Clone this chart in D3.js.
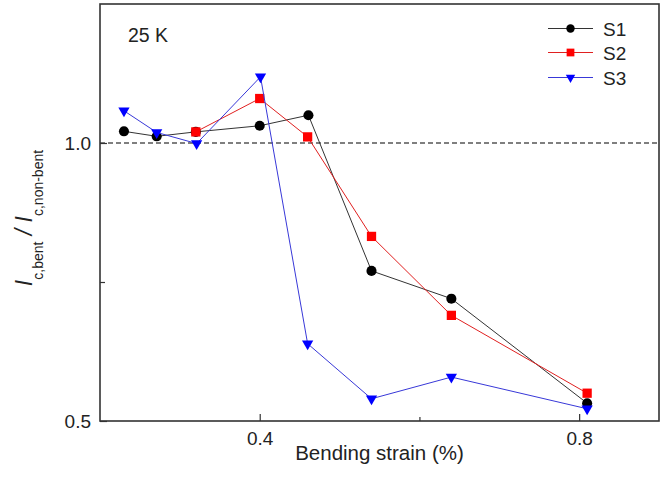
<!DOCTYPE html>
<html>
<head>
<meta charset="utf-8">
<script src="https://cdn.jsdelivr.net/npm/d3@7"></script>
<style>
  body { margin: 0; background: #fff; }
  svg { font-family: "Liberation Sans", Arial, sans-serif; }
</style>
</head>
<body>
<div class="chart"></div>
<script>
// strain values (%) and normalized Ic for each sample
const strainS1 = [0.23, 0.271, 0.32, 0.40, 0.461, 0.54, 0.64, 0.81]
const icS1 = [1.021, 1.012, 1.020, 1.031, 1.050, 0.770, 0.720, 0.532]
const strainS2 = [0.32, 0.40, 0.46, 0.54, 0.64, 0.81]
const icS2 = [1.020, 1.080, 1.011, 0.832, 0.690, 0.550]
const strainS3 = [0.23, 0.271, 0.321, 0.401, 0.46, 0.54, 0.64, 0.81]
const icS3 = [1.058, 1.019, 0.999, 1.119, 0.639, 0.540, 0.579, 0.522]

const seriesNames = ["S1", "S2", "S3"]
const xTicks = [0.4, 0.8]
const xMinor = [0.6]
const yTicks = [0.5, 1.0]
const yMinor = [0.75]

const series = [
  {name: "S1", color: "#000", line: "#333", sym: "circle", data: strainS1.map((x, i) => ({x: x, y: icS1[i]}))},
  {name: "S2", color: "#ff0000", line: "#e02020", sym: "square", data: strainS2.map((x, i) => ({x: x, y: icS2[i]}))},
  {name: "S3", color: "#0000ff", line: "#3838d8", sym: "triangle", data: strainS3.map((x, i) => ({x: x, y: icS3[i]}))}
]

const margin = ({top: 4, right: 3, bottom: 58, left: 100})
const width = 662 - margin.left - margin.right,
  height = 479 - margin.top - margin.bottom;

const svg = d3.select(".chart").append("svg")
  .attr("width", 662)
  .attr("height", 479)
  .append("g")
  .attr("transform", "translate(" + margin.left + "," + margin.top + ")");

const xScale = d3.scaleLinear().domain([0.2, 0.9]).range([0, width]);
const yScale = d3.scaleLinear().domain([0.5, 1.25]).range([height, 0]);

// reference line at 1.0
svg.append("line")
  .attr("x1", 0).attr("x2", width)
  .attr("y1", yScale(1)).attr("y2", yScale(1))
  .attr("stroke", "#000").attr("stroke-width", 1.1)
  .attr("stroke-dasharray", "5,3");

// axes (ticks inward)
const xAxis = d3.axisBottom(xScale).tickValues(xTicks).tickFormat(d3.format(".1f"))
  .tickSizeInner(-7).tickSizeOuter(0).tickPadding(11)
const gx = svg.append("g").attr("class", "axis x-axis")
  .attr("transform", `translate(0, ${height})`).call(xAxis)
svg.append("g").attr("transform", `translate(0, ${height})`)
  .call(d3.axisBottom(xScale).tickValues(xMinor).tickFormat("").tickSizeInner(-4).tickSizeOuter(0))
  .select(".domain").remove()

const yAxis = d3.axisLeft(yScale).tickValues(yTicks).tickFormat(d3.format(".1f"))
  .tickSizeInner(-7).tickSizeOuter(0).tickPadding(9)
const gy = svg.append("g").attr("class", "axis y-axis").call(yAxis)
svg.append("g")
  .call(d3.axisLeft(yScale).tickValues(yMinor).tickFormat("").tickSizeInner(-5).tickSizeOuter(0))
  .select(".domain").remove()

svg.selectAll(".axis text").attr("font-size", "19px").attr("fill", "#222")
  .attr("font-family", "Liberation Sans, Arial, sans-serif")
svg.selectAll(".tick line").attr("stroke", "#333").attr("stroke-width", 1.2)

// frame
svg.append("rect")
  .attr("x", 0).attr("y", 0).attr("width", width).attr("height", height)
  .attr("fill", "none").attr("stroke", "#333").attr("stroke-width", 1.6)
svg.selectAll(".domain").remove()

const line = d3.line().x(d => xScale(d.x)).y(d => yScale(d.y))
const symType = {circle: d3.symbolCircle, square: d3.symbolSquare, triangle: d3.symbolTriangle}
const symSize = {circle: 80, square: 86, triangle: 55}

series.forEach(s => {
  svg.append("path").datum(s.data)
    .attr("d", line).attr("fill", "none")
    .attr("stroke", s.line).attr("stroke-width", 1)
  svg.selectAll(".pt-" + s.name).data(s.data).enter().append("path")
    .attr("d", d3.symbol().type(symType[s.sym]).size(symSize[s.sym]))
    .attr("transform", d => `translate(${xScale(d.x)},${yScale(d.y)})` + (s.sym == "triangle" ? " rotate(180)" : ""))
    .attr("fill", s.color)
})

// legend
const legend = svg.append("g").attr("transform", "translate(" + (548 - margin.left) + ",0)")
series.forEach((s, i) => {
  const ly = [28.5, 52.5, 77.5][i] - margin.top
  legend.append("line").attr("x1", 0).attr("x2", 45).attr("y1", ly).attr("y2", ly)
    .attr("stroke", s.line).attr("stroke-width", 1)
  legend.append("path")
    .attr("d", d3.symbol().type(symType[s.sym]).size(symSize[s.sym] * 0.7))
    .attr("transform", `translate(22.5,${ly})` + (s.sym == "triangle" ? " rotate(180)" : ""))
    .attr("fill", s.color)
  legend.append("text").attr("x", 55).attr("y", ly + 7)
    .text(seriesNames[i]).attr("font-size", "19px").attr("fill", "#222")
})

// temperature label
svg.append("text").attr("x", 128 - margin.left).attr("y", 42 - margin.top)
  .text("25 K").attr("font-size", "19.5px").attr("fill", "#222")

// x title
svg.append("text").attr("x", width / 2).attr("y", 460 - margin.top)
  .attr("text-anchor", "middle").attr("font-size", "20.5px").attr("fill", "#222")
  .text("Bending strain (%)")

// y title
const yt = svg.append("text")
  .attr("transform", `translate(${31.5 - margin.left},${218 - margin.top}) rotate(-90)`)
  .attr("text-anchor", "middle").attr("fill", "#222").attr("font-size", "23px")
yt.append("tspan").attr("font-style", "italic").text("I")
yt.append("tspan").attr("font-size", "14px").attr("dy", 11).text("c,bent")
yt.append("tspan").attr("dy", -11).attr("font-style", "italic").text(" / I")
yt.append("tspan").attr("font-size", "14px").attr("dy", 11).text("c,non-bent")
</script>
</body>
</html>
